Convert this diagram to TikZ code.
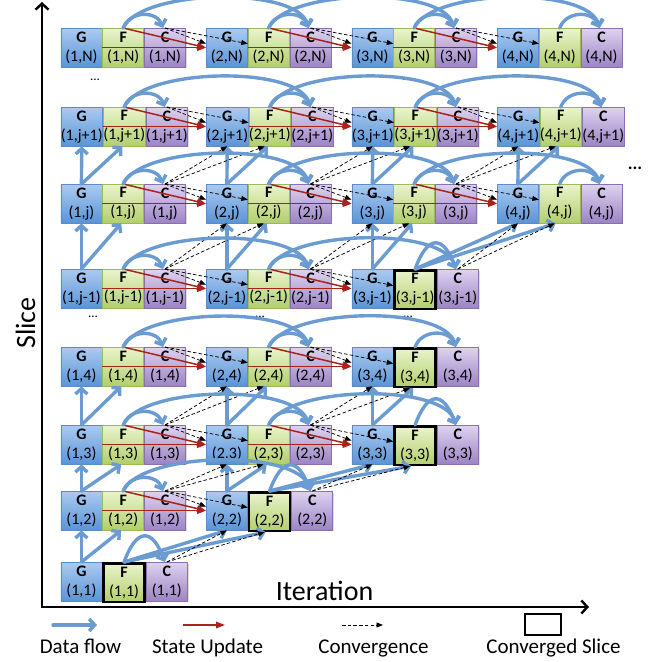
\documentclass[tikz,border=0pt]{standalone}
\usepackage{fontspec}
\setmainfont{Carlito}
\usetikzlibrary{arrows.meta,calc,shadows}

\definecolor{gtop}{HTML}{ABCAF0}
\definecolor{gbot}{HTML}{5A94D6}
\definecolor{gline}{HTML}{5B8CC8}
\definecolor{ftop}{HTML}{EAF4CC}
\definecolor{fbot}{HTML}{B2CE6C}
\definecolor{fline}{HTML}{9BBB59}
\definecolor{ctop}{HTML}{DDD2EF}
\definecolor{cbot}{HTML}{9C84C4}
\definecolor{cline}{HTML}{8A70AE}
\definecolor{flowblue}{HTML}{6A9CD2}
\definecolor{updred}{HTML}{A8231A}

\tikzset{
  cell/.style={rectangle, minimum width=41pt, minimum height=38.5pt, inner sep=0pt,
    anchor=north west, align=center, font=\fontsize{16}{19}\selectfont, line width=0.8pt,
    drop shadow={shadow xshift=1.2pt, shadow yshift=-1.2pt, opacity=0.25}},
  gcell/.style={cell, draw=gline, top color=gtop, bottom color=gbot},
  fcell/.style={cell, draw=fline, top color=ftop, bottom color=fbot},
  ccell/.style={cell, draw=cline, top color=ctop, bottom color=cbot},
  settled/.style={draw=black, line width=2.6pt},
  flow/.style={draw=flowblue, line width=3.4pt, line cap=round,
    -{Straight Barb[length=5.5pt,width=12pt]}},
  update/.style={draw=updred, line width=1.5pt, -{Triangle[length=9pt,width=6.5pt]}},
  conv/.style={draw=black, line width=0.75pt, dash pattern=on 3.5pt off 2.2pt,
    -{Triangle[length=6.5pt,width=5pt]}},
  axisline/.style={line width=2.4pt,
    {Straight Barb[length=6pt,width=13pt]}-{Straight Barb[length=6pt,width=13pt]}},
  dots/.style={font=\fontsize{13}{15}\selectfont, inner sep=0pt},
  legendtext/.style={font=\fontsize{21}{25}\selectfont, anchor=base},
}

% one G/F/C triple: iteration, key, printed slice, top edge
\newcommand\triple[4]{%
  \node[gcell] (G-#1-#2) at ({60.5+145.5*(#1-1)},#4) {\textbf{G}\\(#1,#3)};
  \node[fcell] (F-#1-#2) at (G-#1-#2.north east) {\textbf{F}\\(#1,#3)};
  \node[ccell] (C-#1-#2) at (F-#1-#2.north east) {\textbf{C}\\(#1,#3)};
}
% same, with the F cell marked as converged
\newcommand\settledtriple[4]{%
  \node[gcell] (G-#1-#2) at ({60.5+145.5*(#1-1)},#4) {\textbf{G}\\(#1,#3)};
  \node[fcell, settled] (F-#1-#2) at (G-#1-#2.north east) {\textbf{F}\\(#1,#3)};
  \node[ccell] (C-#1-#2) at (F-#1-#2.north east) {\textbf{C}\\(#1,#3)};
}
% F -> C inside one triple
\newcommand\inner[2]{%
  \draw[flow] (F-#1-#2.north) to[out=70,in=110,looseness=1.2] ([xshift=-2pt]C-#1-#2.north);}
\newcommand\innertall[2]{%
  \draw[flow] (F-#1-#2.north) to[out=70,in=110,looseness=2.3] ([xshift=-2pt]C-#1-#2.north);}
% iteration #1 -> #2 on slice #3
\newcommand\nextiter[3]{%
  \draw[conv] (C-#1-#3.north) -- ([yshift=4pt]G-#2-#3.west);
  \draw[conv] (C-#1-#3.north) -- ([yshift=4pt]F-#2-#3.west);
  \draw[update] (F-#1-#3.north) -- (G-#2-#3.west);
  \draw[update] (F-#1-#3.west) -- (G-#2-#3.west);
  \draw[flow] (F-#1-#3.north) to[out=65,in=105,looseness=0.6] ([xshift=-2pt]C-#2-#3.north);}
% slice #2 -> slice #3 within iteration #1
\newcommand\nextslice[3]{%
  \draw[flow] (G-#1-#2.north) -- (G-#1-#3.south);
  \draw[flow] (G-#1-#2.north) -- ([xshift=-2pt]F-#1-#3.south);}
% convergence check C(#1,#3) -> iteration #2, slice #4
\newcommand\convup[4]{%
  \draw[conv] (C-#1-#3.north) -- (G-#2-#4.south);
  \draw[conv] (C-#1-#3.north) -- ([xshift=-5pt]F-#2-#4.south);}
% converged F(#1,#3) feeds iteration #2, slice #4
\newcommand\handoff[4]{%
  \draw[flow] (F-#1-#3.north) -- (G-#2-#4.south);
  \draw[flow] (F-#1-#3.north) -- ([xshift=-4pt]F-#2-#4.south);}

\begin{document}
\begin{tikzpicture}[x=1pt,y=-1pt]
\useasboundingbox (0,0) rectangle (660,662);

% axes
\coordinate (ytip) at (42,2);
\coordinate (origin) at (42,607);
\coordinate (xtip) at (589,607);
\draw[axisline] (ytip) -- (origin) -- (xtip);
\node[font=\fontsize{28}{32}\selectfont, anchor=base] (xlabel) at (324.5,600) {Iteration};
\node[font=\fontsize{28}{32}\selectfont, anchor=base, rotate=90] (ylabel) at (35,323) {Slice};

% cells
\foreach \i in {1,...,4} {\triple{\i}{N}{N}{28}}
\foreach \i in {1,...,4} {\triple{\i}{jp}{j+1}{107}}
\foreach \i in {1,...,4} {\triple{\i}{j}{j}{184}}
\triple{1}{jm}{j-1}{269}
\triple{2}{jm}{j-1}{269}
\settledtriple{3}{jm}{j-1}{269}
\triple{1}{4}{4}{347}
\triple{2}{4}{4}{347}
\settledtriple{3}{4}{4}{347}
\triple{1}{3}{3}{425}
\triple{2}{3}{3}{425}
\settledtriple{3}{3}{3}{425}
\triple{1}{2}{2}{491}
\settledtriple{2}{2}{2}{491}
\settledtriple{1}{1}{1}{562}

% elided slices and iterations
\node[dots] (dN1) at (95,80) {...};
\node[dots] (dN2) at (262,80) {...};
\node[dots] (dN3) at (407,80) {...};
\node[dots] (dN4) at (553,80) {...};
\node[dots] (dM1) at (93,317) {...};
\node[dots] (dM2) at (260,317) {...};
\node[dots] (dM3) at (408,317) {...};
\node[font=\bfseries\fontsize{18}{20}\selectfont, inner sep=0pt] (more) at (635,168) {...};

% slice to slice
\nextslice{1}{1}{2}
\foreach \i in {1,2} {\nextslice{\i}{2}{3}}
\foreach \i in {1,2,3} {\nextslice{\i}{3}{4}}
\foreach \i in {1,2,3} {\nextslice{\i}{jm}{j}}
\foreach \i in {1,...,4} {\nextslice{\i}{j}{jp}}
\handoff{1}{2}{1}{2}
\handoff{2}{3}{2}{3}
\handoff{3}{4}{jm}{j}

% convergence checks into the next slice
\convup{1}{2}{1}{2}
\convup{1}{2}{2}{3}
\convup{2}{3}{2}{3}
\convup{1}{2}{3}{4}
\convup{2}{3}{3}{4}
\convup{1}{2}{jm}{j}
\convup{2}{3}{jm}{j}
\convup{3}{4}{jm}{j}
\convup{1}{2}{j}{jp}
\convup{2}{3}{j}{jp}
\convup{3}{4}{j}{jp}

% iteration to iteration
\foreach \s in {N,jp,j} {\nextiter{1}{2}{\s}\nextiter{2}{3}{\s}\nextiter{3}{4}{\s}}
\foreach \s in {jm,4,3} {\nextiter{1}{2}{\s}\nextiter{2}{3}{\s}}
\nextiter{1}{2}{2}

% F -> C in every triple
\foreach \i in {1,...,4} {\inner{\i}{N}\inner{\i}{jp}\inner{\i}{j}}
\inner{1}{jm}\inner{2}{jm}\innertall{3}{jm}
\inner{1}{4}\inner{2}{4}\inner{3}{4}
\inner{1}{3}\inner{2}{3}\innertall{3}{3}
\inner{1}{2}\innertall{2}{2}
\innertall{1}{1}

% legend
\coordinate (lf1) at (53,625); \coordinate (lf2) at (97,625);
\draw[flow] (lf1) -- (lf2);
\node[legendtext] (lt1) at (80.5,653) {Data flow};
\coordinate (lu1) at (183,625); \coordinate (lu2) at (225,625);
\draw[update] (lu1) -- (lu2);
\node[legendtext] (lt2) at (207.5,653) {State Update};
\coordinate (lc1) at (342,625); \coordinate (lc2) at (383,625);
\draw[conv] (lc1) -- (lc2);
\node[legendtext] (lt3) at (373.5,653) {Convergence};
\node[draw, line width=2.5pt, minimum width=36pt, minimum height=21pt, inner sep=0pt] (lbox) at (543,624.5) {};
\node[legendtext] (lt4) at (553.5,653) {Converged Slice};
\end{tikzpicture}
\end{document}
